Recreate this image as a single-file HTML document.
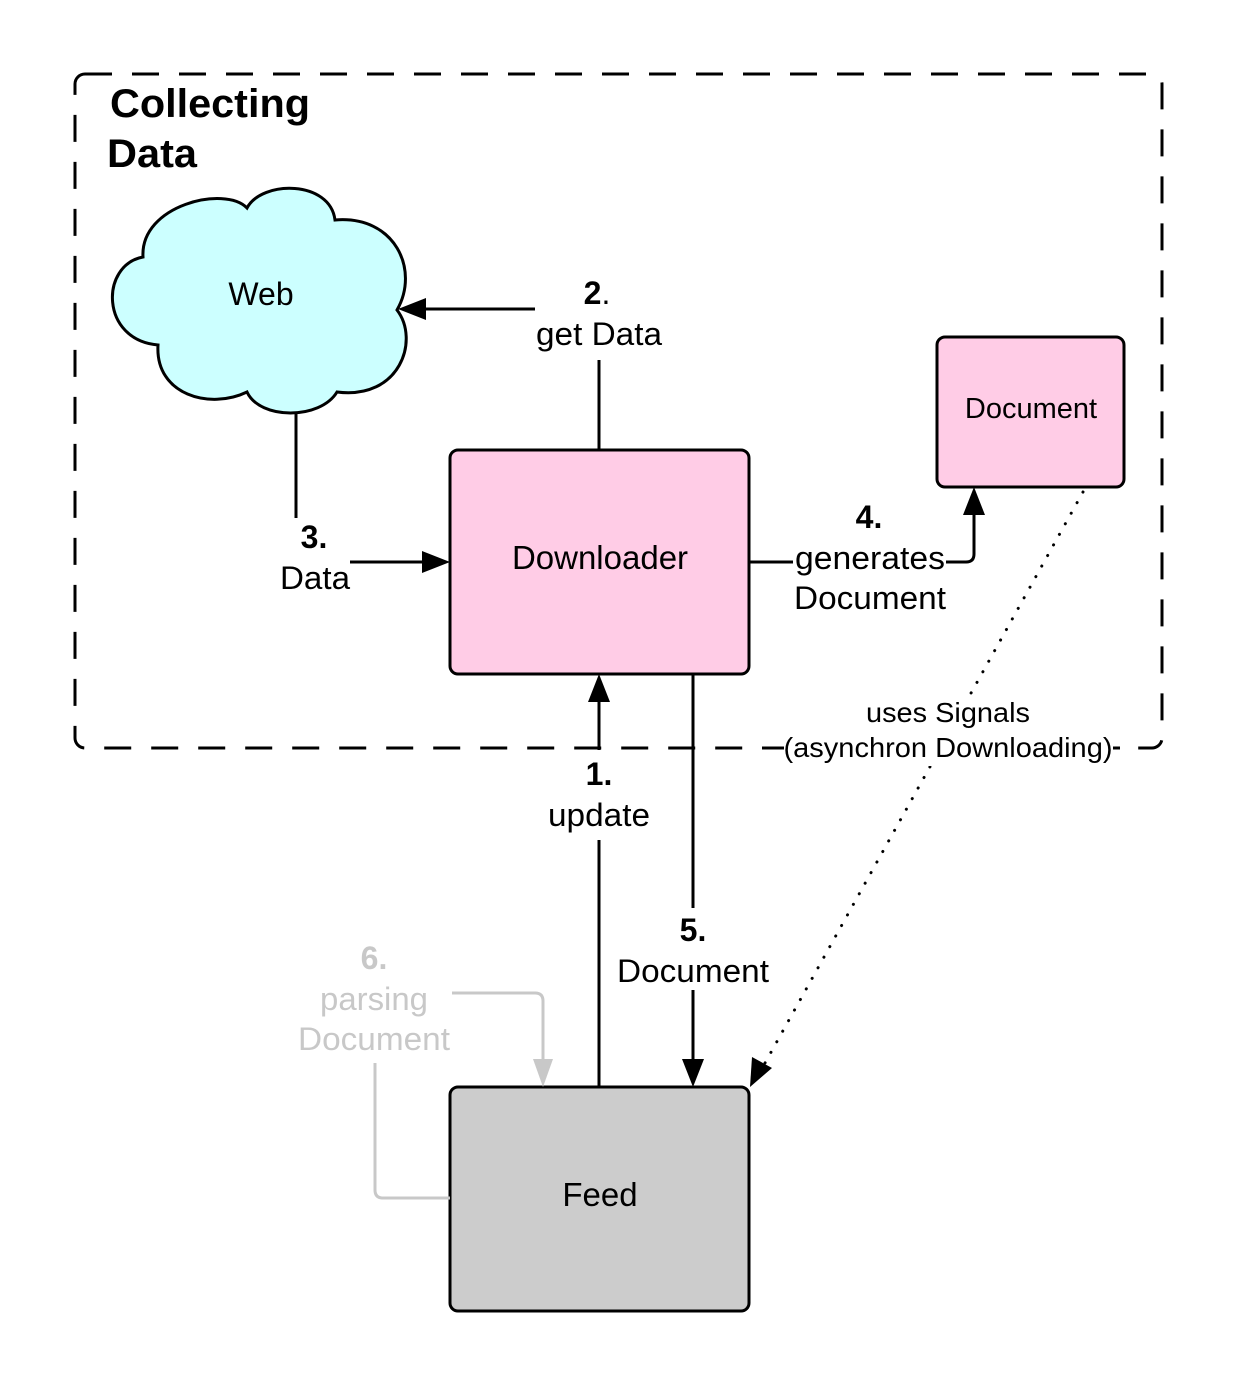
<!DOCTYPE html>
<html><head><meta charset="utf-8"><style>
html,body{margin:0;padding:0;background:#fff;}
svg{display:block;}
text{font-family:"Liberation Sans",Arial,sans-serif;}
</style></head><body>
<svg width="1238" height="1388" viewBox="0 0 1238 1388" xmlns="http://www.w3.org/2000/svg">
<rect x="75" y="74" width="1087" height="674" rx="10" fill="none" stroke="#000" stroke-width="3" stroke-dasharray="27 20"/>
<text x="110" y="117" font-size="40" font-weight="bold" textLength="200" lengthAdjust="spacingAndGlyphs">Collecting</text>
<text x="107" y="167" font-size="40" font-weight="bold" textLength="90" lengthAdjust="spacingAndGlyphs">Data</text>

<path d="M143,257 C140,205 225,185 247,208 C262,180 330,180 335,220 C395,215 420,270 397,310 C420,340 400,400 337,392 C320,420 260,420 247,392 C210,410 155,395 158,345 C100,340 100,265 143,257 Z" fill="#ccffff" stroke="#000" stroke-width="3"/>
<text x="261" y="305" font-size="32" text-anchor="middle">Web</text>

<rect x="450" y="450" width="299" height="224" rx="8" fill="#ffcce6" stroke="#000" stroke-width="3"/>
<text x="600" y="569" font-size="33" text-anchor="middle">Downloader</text>
<rect x="937" y="337" width="187" height="150" rx="8" fill="#ffcce6" stroke="#000" stroke-width="3"/>
<text x="1031" y="418" font-size="29" text-anchor="middle">Document</text>
<rect x="450" y="1087" width="299" height="224" rx="8" fill="#cccccc" stroke="#000" stroke-width="3"/>
<text x="600" y="1206" font-size="33" text-anchor="middle">Feed</text>

<g stroke="#000" stroke-width="3" fill="none">
<path d="M599,450 V360"/>
<path d="M535,309 H420"/>
<path d="M296,412 V518"/>
<path d="M350,562 H428"/>
<path d="M749,562 H793"/>
<path d="M946,562 H966 Q974,562 974,554 V510"/>
<path d="M599,1087 V840"/>
<path d="M599,750 V697"/>
<path d="M693,674 V908"/>
<path d="M693,990 V1064"/>
</g>
<g fill="#000">
<polygon points="398,309 426,298 426,320"/>
<polygon points="450,562 422,551 422,573"/>
<polygon points="974,487 963,515 985,515"/>
<polygon points="599,674 588,702 610,702"/>
<polygon points="693,1087 682,1059 704,1059"/>
</g>
<g stroke="#c8c8c8" stroke-width="3" fill="none">
<path d="M450,1198 H383 Q375,1198 375,1190 V1063"/>
<path d="M452,993 H535 Q543,993 543,1001 V1065"/>
</g>
<polygon points="543,1087 533,1059 553,1059" fill="#c8c8c8"/>

<path d="M1083,492 L765,1063" stroke="#000" stroke-width="3" stroke-dasharray="0.1 12" stroke-linecap="round" fill="none"/>
<polygon points="750,1087 752,1057 772,1068" fill="#000"/>

<g font-size="32" text-anchor="middle">
<text x="597" y="304"><tspan font-weight="bold">2</tspan>.</text>
<text x="599" y="345" textLength="126" lengthAdjust="spacingAndGlyphs">get Data</text>
<text x="314" y="548" font-weight="bold">3.</text>
<text x="315" y="589" textLength="70" lengthAdjust="spacingAndGlyphs">Data</text>
<text x="869" y="528" font-weight="bold">4.</text>
<text x="870" y="569" textLength="150" lengthAdjust="spacingAndGlyphs">generates</text>
<text x="870" y="609" textLength="152" lengthAdjust="spacingAndGlyphs">Document</text>
<text x="599" y="785" font-weight="bold">1.</text>
<text x="599" y="826" textLength="102" lengthAdjust="spacingAndGlyphs">update</text>
<text x="693" y="941" font-weight="bold">5.</text>
<text x="693" y="982" textLength="152" lengthAdjust="spacingAndGlyphs">Document</text>
<g fill="#c8c8c8">
<text x="374" y="969" font-weight="bold">6.</text>
<text x="374" y="1010" textLength="108" lengthAdjust="spacingAndGlyphs">parsing</text>
<text x="374" y="1050" textLength="152" lengthAdjust="spacingAndGlyphs">Document</text>
</g>
</g>
<rect x="862" y="696" width="172" height="36" fill="#fff"/>
<rect x="782" y="730" width="332" height="36" fill="#fff"/>
<text x="948" y="722" font-size="28" text-anchor="middle" textLength="164" lengthAdjust="spacingAndGlyphs">uses Signals</text>
<text x="948" y="757" font-size="28" text-anchor="middle" textLength="329" lengthAdjust="spacingAndGlyphs">(asynchron Downloading)</text>
<path d="M762,748 H784 M1113,748 H1120" stroke="#000" stroke-width="3"/>
</svg>
</body></html>
